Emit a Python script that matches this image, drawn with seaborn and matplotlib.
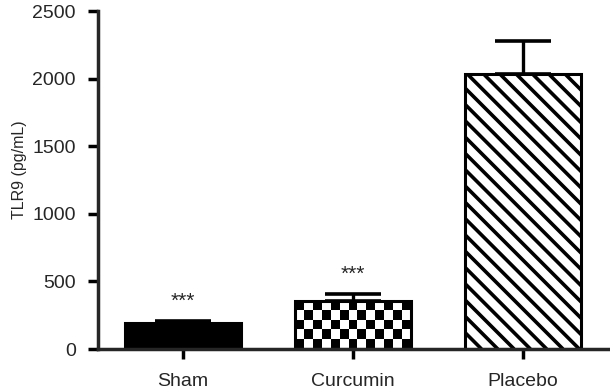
import numpy as np
import matplotlib
matplotlib.use("Agg")
import matplotlib.pyplot as plt
from matplotlib.collections import LineCollection
import seaborn as sns

# values
groups = ["Sham", "Curcumin", "Placebo"]
means = [192, 356, 2033]
sem = [14, 50, 245]
stars = ["***", "***", ""]
fills = ["black", "white", "white"]

sns.set_style("ticks")
plt.rcParams["font.family"] = ["Liberation Sans", "DejaVu Sans"]

fig = plt.figure(figsize=(6.1, 3.89), dpi=100)
ax = fig.add_axes([0.1607, 0.1028, 0.836, 0.8689])

sns.barplot(x=groups, y=means, hue=groups, palette=fills, legend=False,
            width=0.68, edgecolor="black", linewidth=2.2, errorbar=None, ax=ax)

# upward-only error bars
ax.errorbar(x=np.arange(len(groups)), y=means, yerr=[np.zeros(len(sem)), sem],
            fmt="none", ecolor="black", elinewidth=2.4, capsize=20, capthick=2.6,
            zorder=1)

ax.set_xlim(-0.5, 2.5)
ax.set_ylim(0, 2500)
ax.set_yticks([0, 500, 1000, 1500, 2000, 2500])
fig.canvas.draw()

bars = ax.patches
inv = ax.transData.inverted()

# curcumin: checkerboard clipped to the bar
p = bars[1]
bb = p.get_bbox()
x0, x1, y0, y1 = bb.x0, bb.x1, bb.y0, bb.y1
disp = ax.transData.transform([[x0, y0], [x1, y1]])
ncol = max(1, int(round(abs(disp[1, 0] - disp[0, 0]) / 9)))
nrow = max(1, int(round(abs(disp[1, 1] - disp[0, 1]) / 9)))
checker = np.add.outer(np.arange(nrow), np.arange(ncol)) % 2
im = ax.imshow(checker, cmap="gray", extent=[x0, x1, y0, y1], aspect="auto",
               interpolation="nearest", zorder=p.get_zorder() - 0.1)
im.set_clip_path(p)
p.set_facecolor("none")

# placebo: diagonal stripes (top-left to bottom-right), ~16 px apart
p = bars[2]
bb = p.get_bbox()
d = ax.transData.transform([[bb.x0, bb.y0], [bb.x1, bb.y1]])
px0, py0 = d[0]
px1, py1 = d[1]
h = py1 - py0
segs = []
for c in np.arange(px0 - h, px1 + 16, 16.3):
    segs.append(inv.transform([[c, py1], [c + h, py0]]))
lc = LineCollection(segs, colors="black", linewidths=2.6,
                    zorder=p.get_zorder() + 0.05)
ax.add_collection(lc)
lc.set_clip_path(p)
p.set_zorder(p.get_zorder() + 0.1)
p.set_facecolor("none")

ax.set_xlim(-0.5, 2.5)
ax.set_ylim(0, 2500)

for i, s in enumerate(stars):
    if s:
        ax.annotate(s, xy=(i, means[i] + sem[i]), xytext=(0, 14),
                    textcoords="offset points", ha="center", va="center",
                    fontsize=15)

sns.despine(ax=ax)
for side in ["left", "bottom"]:
    ax.spines[side].set_linewidth(2.5)
ax.tick_params(axis="both", width=2.5, length=7, labelsize=14, color="black")
ax.tick_params(axis="x", pad=10)
ax.tick_params(axis="y", pad=9)
ax.set_xlabel("")
ax.set_ylabel("TLR9 (pg/mL)", fontsize=11.5)
ax.yaxis.set_label_coords(-0.14, 0.53)

fig.savefig("out.png", dpi=100)
